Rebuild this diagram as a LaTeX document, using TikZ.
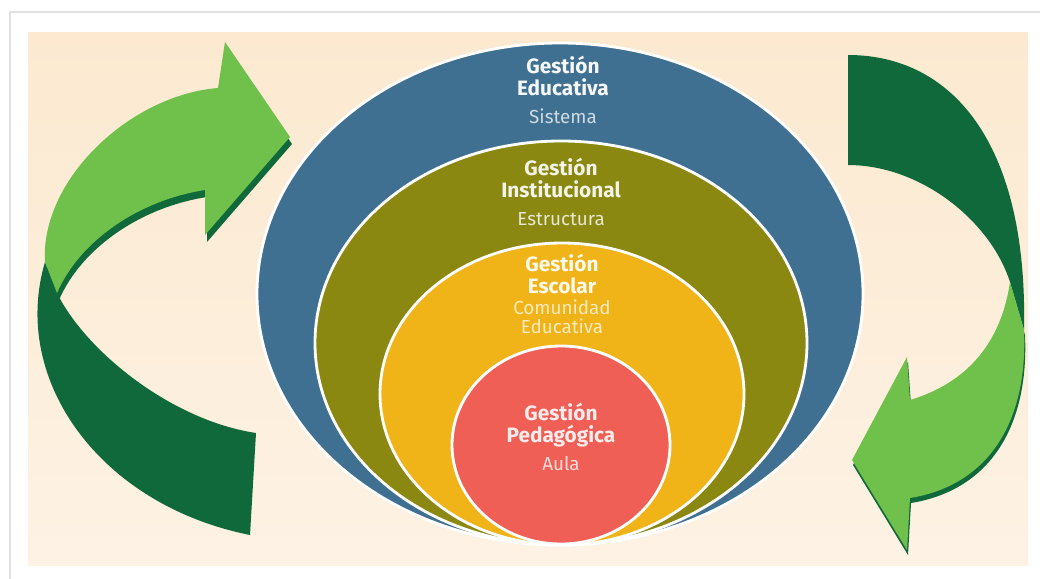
\documentclass[tikz,border=0pt]{standalone}
\usepackage{fontspec}
\setmainfont{Fira Sans}
\definecolor{sistema}{RGB}{64,112,145}
\definecolor{estructura}{RGB}{138,136,16}
\definecolor{comunidad}{RGB}{240,180,25}
\definecolor{aula}{RGB}{240,95,85}
\definecolor{verdeclaro}{RGB}{112,192,76}
\definecolor{verdeoscuro}{RGB}{16,105,58}
\definecolor{fondoarriba}{RGB}{252,233,208}
\definecolor{fondoabajo}{RGB}{253,242,228}
\begin{document}
\begin{tikzpicture}[x=0.025cm,y=-0.025cm,
  titulo/.style={anchor=base,inner sep=0pt,font=\bfseries\fontsize{14.8}{17}\selectfont},
  subtitulo/.style={anchor=base,inner sep=0pt,font=\fontsize{13.4}{16}\selectfont},
  anillo/.style={draw=white,line width=2pt}]
\useasboundingbox (0,0) rectangle (1040,579);
\fill[white] (0,0) rectangle (1040,579);
\draw[black!12,line width=1.5pt] (10,579) -- (10,12) -- (1040,12);
\shade[top color=fondoarriba,bottom color=fondoabajo] (28,32) rectangle (1028,565);
\draw[anillo,fill=sistema] (560,294) ellipse [x radius=303,y radius=251];
\draw[anillo,fill=estructura] (561,343) ellipse [x radius=246,y radius=202];
\draw[anillo,fill=comunidad] (562,394) ellipse [x radius=182,y radius=151];
\draw[anillo,fill=aula] (561,445) ellipse [x radius=109,y radius=99];
\fill[verdeoscuro] (45,262) -- (57,293) .. controls (85,350) and (170,420) .. (256,433)
  -- (250,535) .. controls (100,505) and (10,380) .. (45,262) -- cycle;
\fill[verdeoscuro,shift={(2,7)}] (45,262) .. controls (40,180) and (130,95) .. (218,88)
  -- (225,42) -- (290,137) -- (205,235) -- (205,190) .. controls (140,200) and (80,240) .. (57,293) -- cycle;
\fill[verdeclaro] (45,262) .. controls (40,180) and (130,95) .. (218,88)
  -- (225,42) -- (290,137) -- (205,235) -- (205,190) .. controls (140,200) and (80,240) .. (57,293) -- cycle;
\fill[verdeoscuro] (848,55) .. controls (950,55) and (1028,140) .. (1024,330)
  -- (1010,282) .. controls (990,220) and (920,165) .. (848,165) -- cycle;
\fill[verdeoscuro,shift={(1,5)}] (1010,282) -- (1024,330) .. controls (1028,420) and (990,485) .. (910,498)
  -- (907,550) -- (852,460) -- (907,357) -- (910,400) .. controls (960,385) and (1000,350) .. (1010,282) -- cycle;
\fill[verdeclaro] (1010,282) -- (1024,330) .. controls (1028,420) and (990,485) .. (910,498)
  -- (907,550) -- (852,460) -- (907,357) -- (910,400) .. controls (960,385) and (1000,350) .. (1010,282) -- cycle;
\node[titulo,text=white!95!sistema] (educa1) at (563,73) {Gestión};
\node[titulo,text=white!95!sistema] (educa2) at (563,95) {Educativa};
\node[subtitulo,text=white!75!sistema] (sistema) at (563,123) {Sistema};
\node[titulo,text=white!90!estructura] (inst1) at (561,175) {Gestión};
\node[titulo,text=white!90!estructura] (inst2) at (561,197) {Institucional};
\node[subtitulo,text=white!80!estructura] (estructura) at (561,225) {Estructura};
\node[titulo,text=white!92!comunidad] (esc1) at (562,271) {Gestión};
\node[titulo,text=white!92!comunidad] (esc2) at (562,293) {Escolar};
\node[subtitulo,text=white!72!comunidad] (comun1) at (562,314) {Comunidad};
\node[subtitulo,text=white!72!comunidad] (comun2) at (562,333) {Educativa};
\node[titulo,text=white!88!aula] (ped1) at (561,420) {Gestión};
\node[titulo,text=white!88!aula] (ped2) at (561,442) {Pedagógica};
\node[subtitulo,text=white!78!aula] (aula) at (561,470) {Aula};
\end{tikzpicture}
\end{document}
